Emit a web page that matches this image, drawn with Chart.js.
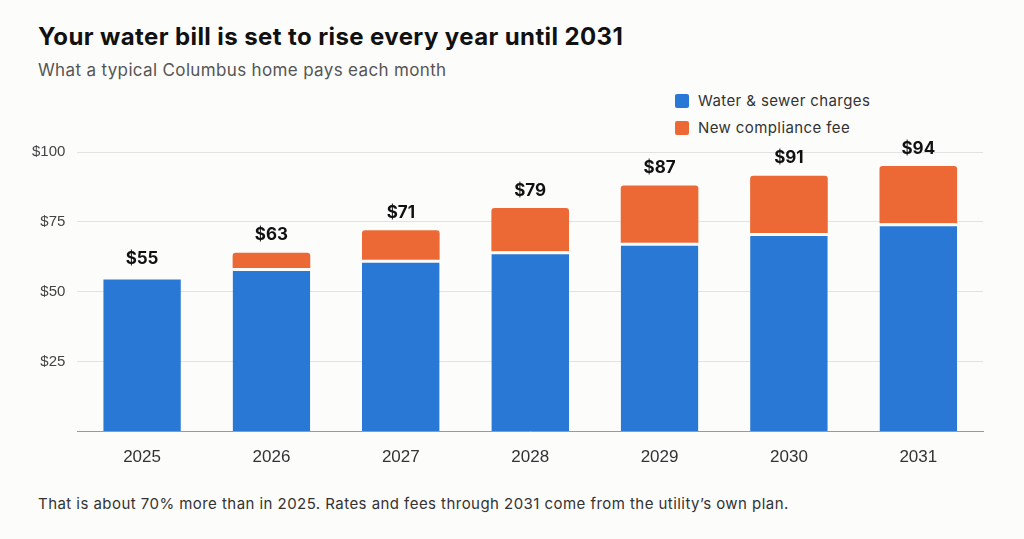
<!DOCTYPE html>
<html><head><meta charset="utf-8">
<script src="https://cdn.jsdelivr.net/npm/chart.js@4"></script>
<style>
body{margin:0;background:#fcfcfb;font-family:"Helvetica Neue",Inter,"Liberation Sans",Arial,sans-serif;width:1024px;height:539px;overflow:hidden;position:relative}
#t{position:absolute;left:38px;top:22px;font-size:24px;font-weight:700;color:#111;letter-spacing:0.4px}
#s{position:absolute;left:38px;top:60px;font-size:17px;color:#555;letter-spacing:0.35px}
#f{position:absolute;left:38px;top:494px;font-size:15px;color:#333;letter-spacing:0.45px}
#lg{position:absolute;left:675px;top:87px;font-size:15px;color:#333;line-height:27px;letter-spacing:0.4px}
#lg span{display:inline-block;width:14px;height:14px;vertical-align:-2px;margin-right:9px;border-radius:2px}
#c{position:absolute;left:20px;top:131px;width:984px;height:345px}
</style></head><body>
<div id="t">Your water bill is set to rise every year until 2031</div>
<div id="s">What a typical Columbus home pays each month</div>
<div id="lg"><div><span style="background:#2a78d6"></span>Water &amp; sewer charges</div><div><span style="background:#ec6936"></span>New compliance fee</div></div>
<div id="c"><canvas id="cv"></canvas></div>
<div id="f">That is about 70% more than in 2025. Rates and fees through 2031 come from the utility’s own plan.</div>
<script>
const years=["2025","2026","2027","2028","2029","2030","2031"];
const waterSewer=[55.5,58.5,61.5,64.5,67.5,71,74.5];
const complianceFee=[0,5.5,10.5,15.5,20.5,20.5,20.5];
const totalLabels=["$55","$63","$71","$79","$87","$91","$94"];
const yTicks=[0,25,50,75,100];
const lbl={id:'lbl',afterDatasetsDraw(ch){const c=ch.ctx;c.save();c.font='bold 17px "Helvetica Neue",Inter,"Liberation Sans",sans-serif';c.fillStyle='#111';c.textAlign='center';c.textBaseline='bottom';
const m0=ch.getDatasetMeta(0),m1=ch.getDatasetMeta(1);
years.forEach((y,i)=>{const b=complianceFee[i]>0?m1.data[i]:m0.data[i];c.fillText(totalLabels[i],b.x,b.y-9);});c.restore();}};
new Chart(document.getElementById('cv'),{type:'bar',
data:{labels:years,datasets:[
{data:waterSewer,backgroundColor:'#2a78d6',borderColor:'#fcfcfb',borderWidth:{top:3,left:0,right:0,bottom:0},borderSkipped:false,borderRadius:{topLeft:3,topRight:3},barPercentage:0.6,categoryPercentage:1},
{data:complianceFee,backgroundColor:'#ec6936',borderRadius:{topLeft:3,topRight:3},borderSkipped:false,barPercentage:0.6,categoryPercentage:1}]},
options:{responsive:true,maintainAspectRatio:false,animation:false,layout:{padding:{top:17,right:21}},
plugins:{legend:{display:false},tooltip:{enabled:false}},
scales:{x:{stacked:true,grid:{display:false},border:{color:'#999'},ticks:{color:'#333',font:{size:17},padding:8}},
y:{stacked:true,min:0,max:100,afterBuildTicks(a){a.ticks=yTicks.map(v=>({value:v}));},grid:{color:'#e2e2e2',drawTicks:false},border:{display:false},
ticks:{color:'#444',font:{size:15},padding:12,callback:v=>v===0?'':'$'+v}}}},
plugins:[lbl]});
</script></body></html>
